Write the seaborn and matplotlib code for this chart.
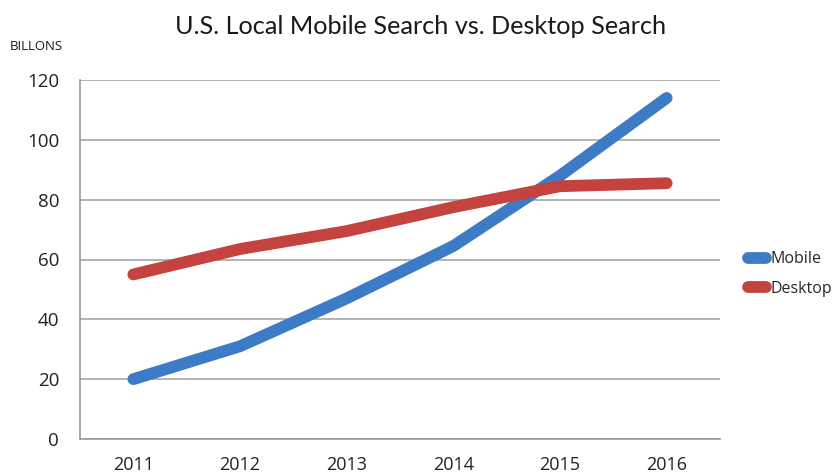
import numpy as np
import pandas as pd
import matplotlib
matplotlib.use("Agg")
import matplotlib.pyplot as plt
import seaborn as sns
from matplotlib.ticker import MultipleLocator, FixedLocator

# Data (billions of searches)
years = ["2011", "2012", "2013", "2014", "2015", "2016"]
mobile = [20, 31, 47, 64.5, 88, 114]
desktop = [55, 63.5, 69.5, 77.5, 84.5, 85.5]
series_names = ["Mobile", "Desktop"]
series_colors = ["#3d7bc6", "#c4433f"]

df = pd.DataFrame({
    "Year": years * 2,
    "Searches": mobile + desktop,
    "Series": ["Mobile"] * len(years) + ["Desktop"] * len(years),
})

sns.set_style("white")
plt.rcParams["font.family"] = ["Open Sans", "DejaVu Sans"]

fig = plt.figure(figsize=(8.35, 4.74), dpi=100)
ax = fig.add_axes([80 / 835, 1 - 439 / 474, 640 / 835, 359 / 474])

sns.lineplot(data=df, x="Year", y="Searches", hue="Series",
             hue_order=series_names, palette=series_colors,
             linewidth=8.5, ax=ax, legend=False, sort=False)
for line in ax.lines:
    line.set_solid_capstyle("round")
    line.set_solid_joinstyle("round")
    line.set_zorder(3)

ax.set_xlim(-0.5, len(years) - 0.5)
ax.set_ylim(0, 120)
ax.yaxis.set_major_locator(MultipleLocator(20))
ax.set_xticks(range(len(years)))
ax.set_xticklabels(years)
ax.xaxis.set_minor_locator(FixedLocator(np.arange(-0.5, len(years), 1.0)))
ax.tick_params(axis="x", which="major", length=0, labelsize=13, pad=12,
               colors="#222222")
ax.tick_params(axis="x", which="minor", length=6, width=1.2, color="#999999",
               direction="out")
ax.tick_params(axis="y", which="major", length=6, width=1.2, color="#999999",
               labelsize=13.5, pad=9, labelcolor="#222222", direction="out")
ax.yaxis.grid(True, color="#a6a6a6", linewidth=1.2)
ax.set_axisbelow(True)

for side in ["top", "right"]:
    ax.spines[side].set_visible(False)
for side in ["left", "bottom"]:
    ax.spines[side].set_color("#999999")
    ax.spines[side].set_linewidth(1.2)

ax.set_xlabel("")
ax.set_ylabel("")

fig.text(421 / 835, 1 - 27 / 474, "U.S. Local Mobile Search vs. Desktop Search",
         ha="center", va="center", fontsize=18.2, color="#1a1a1a",
         family=["Lato", "DejaVu Sans"])
fig.text(10 / 835, 1 - 46 / 474, "BILLONS", ha="left", va="center",
         fontsize=9.5, color="#1a1a1a")

handles = [plt.Line2D([0], [0], color=c, linewidth=8.5, solid_capstyle="round")
           for c in series_colors]
fig.legend(handles, series_names, loc="center left",
           bbox_to_anchor=(740 / 835, 1 - 274 / 474), frameon=False,
           fontsize=11.5, handlelength=1.1, handletextpad=0.3,
           labelspacing=0.85, borderpad=0)

fig.savefig("out.png", dpi=100)
